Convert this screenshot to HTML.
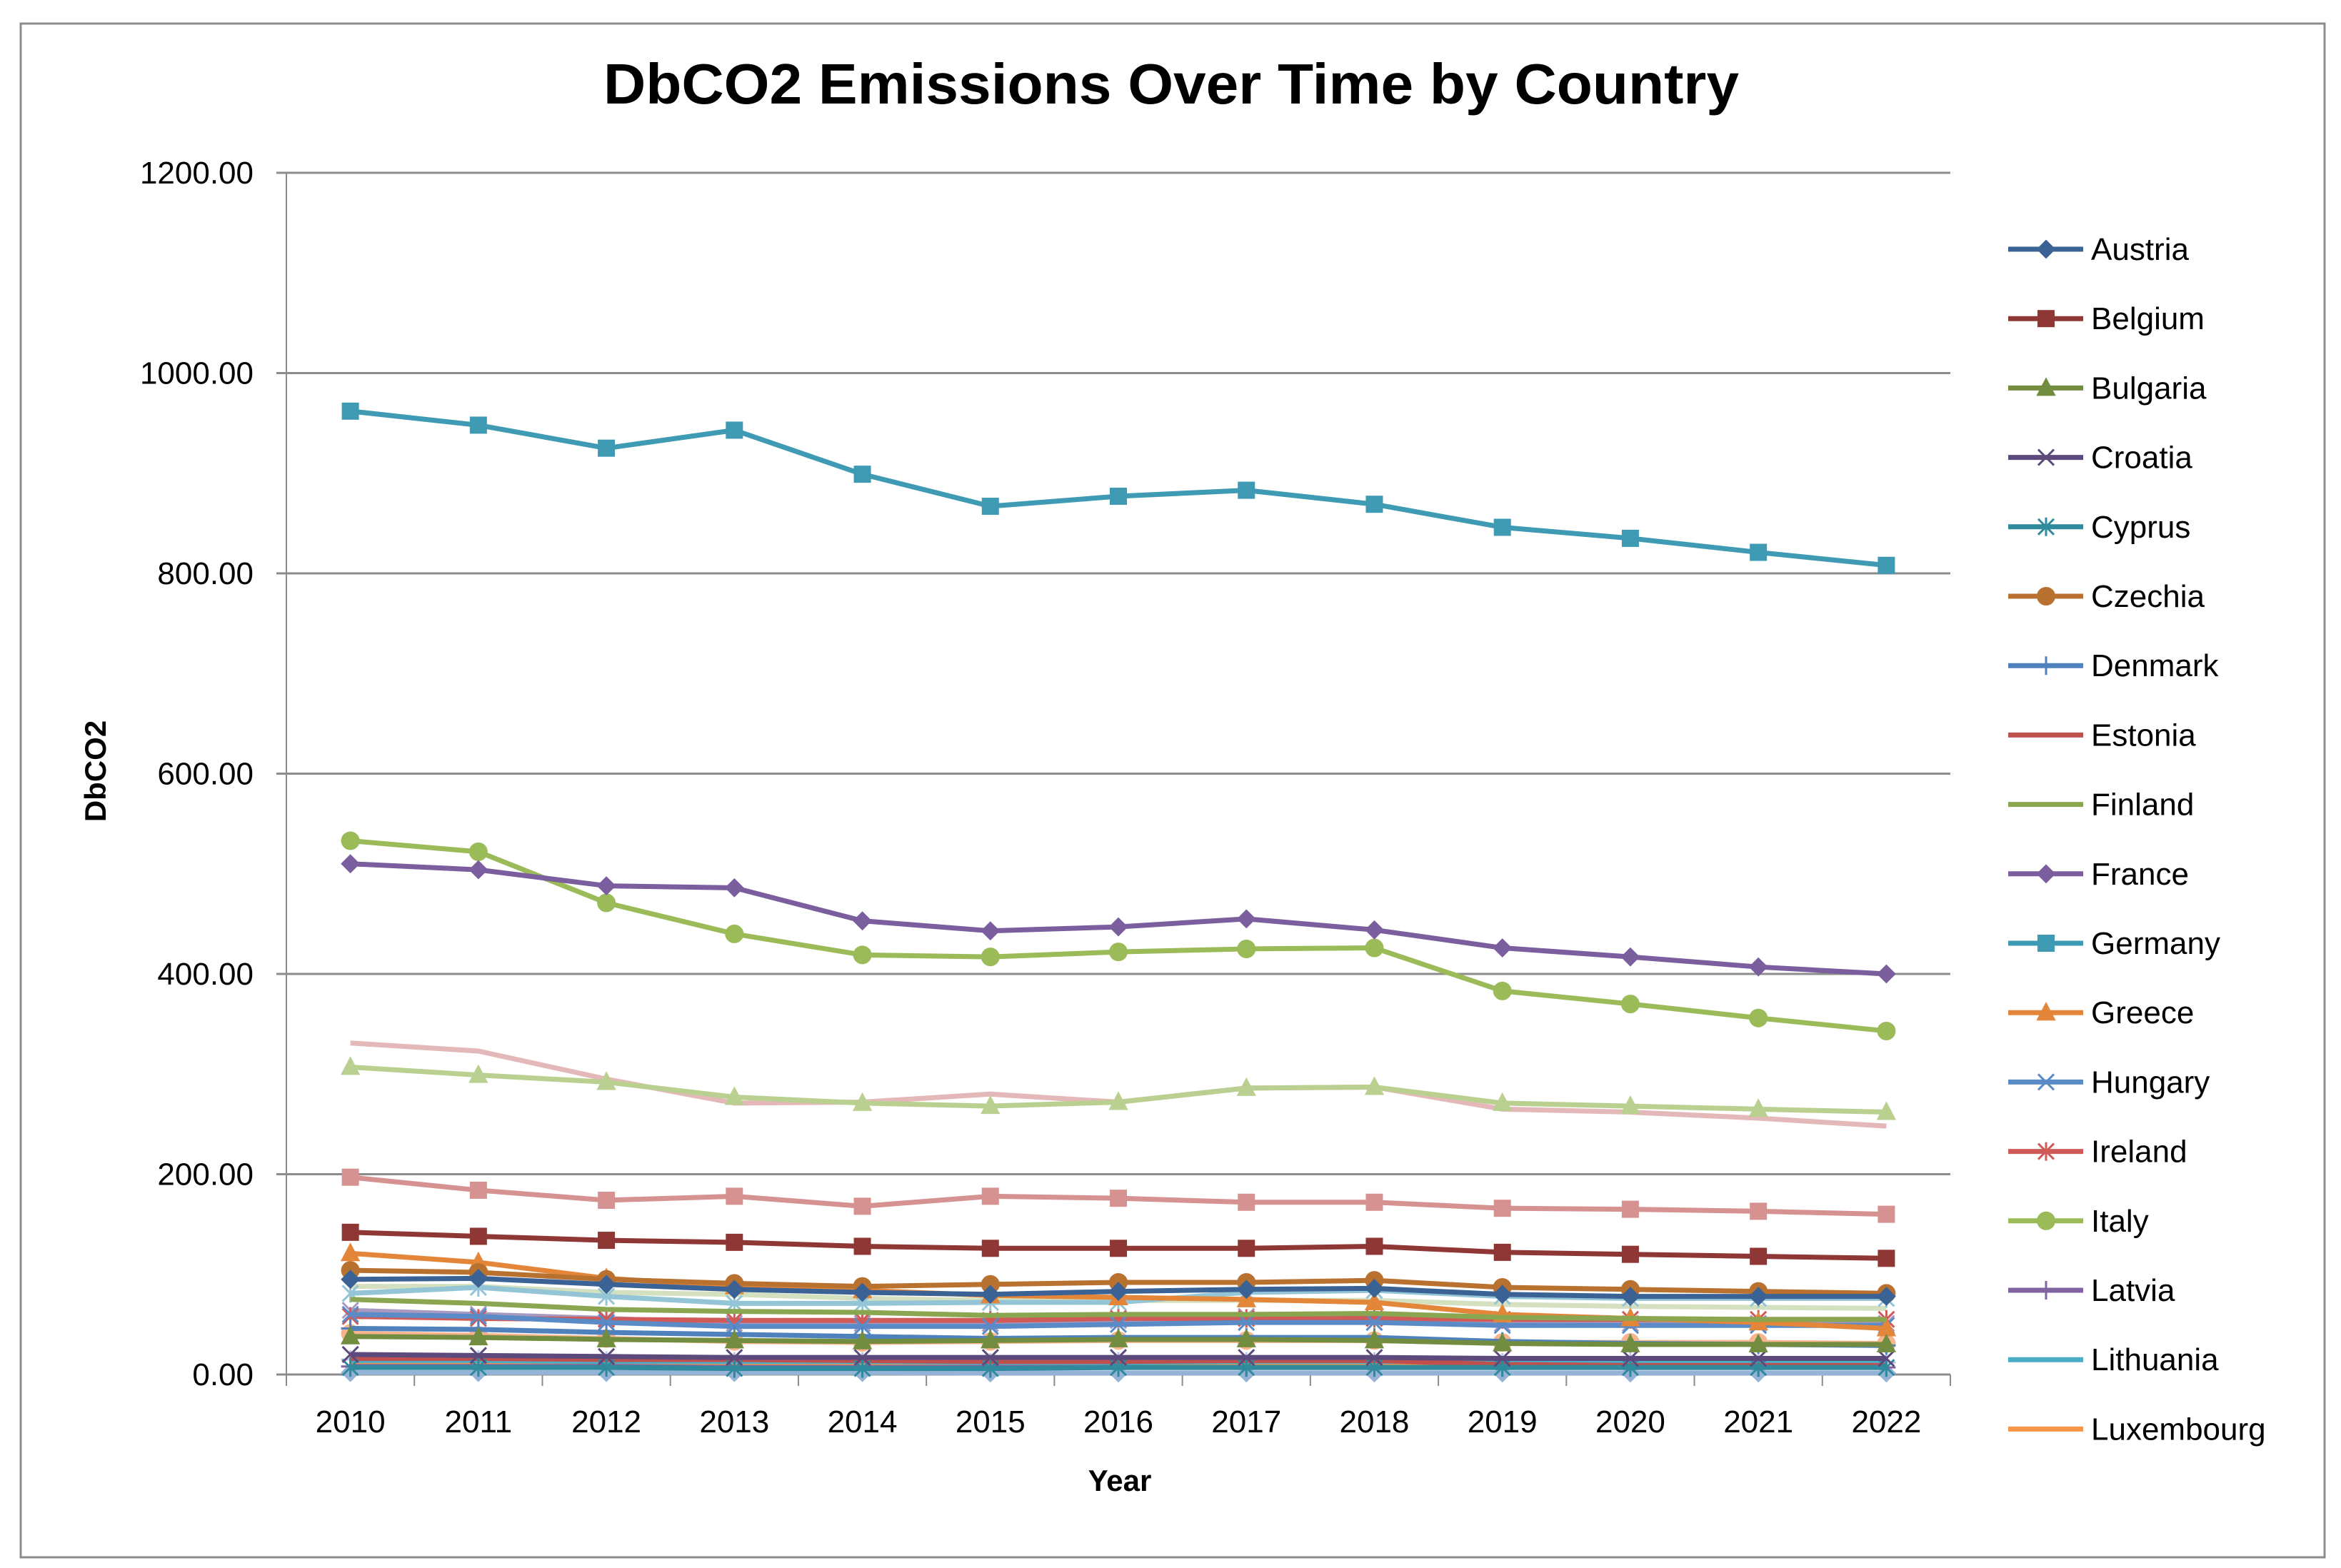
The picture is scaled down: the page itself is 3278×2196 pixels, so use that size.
<!DOCTYPE html>
<html><head><meta charset="utf-8"><style>
html,body{margin:0;padding:0;background:#fff}
svg{display:block;font-family:"Liberation Sans",sans-serif}
</style></head><body>
<svg id="chart" width="3278" height="2196" viewBox="0 0 3278 2196" xmlns="http://www.w3.org/2000/svg">
<rect x="29" y="33" width="3226" height="2148" fill="#fff" stroke="#8c8c8c" stroke-width="3"/>
<text x="1640" y="145" text-anchor="middle" font-size="80" font-weight="bold" textLength="1590" lengthAdjust="spacingAndGlyphs">DbCO2 Emissions Over Time by Country</text>
<g id="grid"></g><g id="axes"></g><g id="series"></g><g id="legend"></g>
<text transform="translate(148,1080) rotate(-90)" text-anchor="middle" font-size="42" font-weight="bold">DbCO2</text>
<text x="1568" y="2088" text-anchor="middle" font-size="42" font-weight="bold">Year</text>
</svg>
<script>
const years=["2010","2011","2012","2013","2014","2015","2016","2017","2018","2019","2020","2021","2022"];
const yTicks=[0,200,400,600,800,1000,1200];
const countries=["Austria","Belgium","Bulgaria","Croatia","Cyprus","Czechia","Denmark","Estonia","Finland","France","Germany","Greece","Hungary","Ireland","Italy","Latvia","Lithuania","Luxembourg","Malta","Netherlands","Poland","Portugal","Romania","Slovakia","Slovenia","Spain","Sweden"];
const austria=[95,96,90,85,82,80,83,85,86,80,78,78,78];
const belgium=[142,138,134,132,128,126,126,126,128,122,120,118,116];
const bulgaria=[38,37,35,34,33,34,35,35,34,31,30,30,30];
const croatia=[20,19,18,17,17,17,17,17,17,16,16,16,16];
const cyprus=[7,7,7,6,6,6,7,7,7,7,7,7,7];
const czechia=[104,102,95,91,88,90,92,92,94,87,85,83,81];
const denmark=[46,45,42,40,38,36,37,37,37,33,31,30,29];
const estonia=[16,16,15,15,14,13,13,14,14,10,9,9,9];
const finland=[75,71,65,63,62,59,60,60,61,57,56,55,55];
const france=[510,504,488,486,453,443,447,455,444,426,417,407,400];
const germany=[962,948,925,943,899,867,877,883,869,846,835,821,808];
const greece=[121,112,96,88,84,79,77,75,72,60,56,52,46];
const hungary=[60,58,52,48,48,48,50,52,52,49,49,49,49];
const ireland=[58,56,55,54,54,54,56,56,56,55,55,55,55];
const italy=[533,522,471,440,419,417,422,425,426,383,370,356,343];
const latvia=[8,8,8,7,7,7,7,7,7,7,7,7,7];
const lithuania=[14,14,13,13,13,12,12,13,13,13,13,13,13];
const luxembourg=[11,11,11,10,10,9,9,9,9,9,9,9,9];
const malta=[2,2,2,2,2,1.5,1.5,1.5,1.5,1.5,1.5,1.5,1.5];
const netherlands=[197,184,174,178,168,178,176,172,172,166,165,163,160];
const poland=[307,299,292,277,271,268,272,286,287,271,268,265,262];
const portugal=[64,60,56,51,51,51,54,58,56,51,51,51,51];
const romania=[81,87,78,71,71,72,72,82,84,78,76,76,76];
const slovakia=[41,39,36,33,32,33,34,34,34,32,32,32,31];
const slovenia=[15,15,14,13,13,12,13,13,13,12,12,12,12];
const spain=[331,323,295,271,272,280,272,286,287,265,262,256,248];
const sweden=[88,88,82,80,76,74,74,74,74,70,68,67,66];
const seriesValues=[austria,belgium,bulgaria,croatia,cyprus,czechia,denmark,estonia,finland,france,germany,greece,hungary,ireland,italy,latvia,lithuania,luxembourg,malta,netherlands,poland,portugal,romania,slovakia,slovenia,spain,sweden];
const colors=["#3b6295","#8e3735","#728d3f","#5d4a7d","#2e8a9c","#b8712f","#4f81bd","#c0504d","#8aa650","#7b5e9e","#3f9ab3","#e4863a","#5a8bc6","#d05a57","#9bbb59","#8064a2","#4bacc6","#f79646","#95b3d7","#d69290","#b9d090","#a899c0","#93c5d6","#f8b58d","#b9c9e2","#e4b8b8","#d4e0bf"];
const markers=["diamond","square","triangle","x","star","circle","plus","none","none"];
const L=401,R=2731,T=242,B=1925;
const xs=i=>L+(R-L)/years.length*(i+0.5);
const ys=v=>B-(v/1200)*(B-T);
const NS="http://www.w3.org/2000/svg";
function mk(tag,attrs,parent){const e=document.createElementNS(NS,tag);for(const k in attrs)e.setAttribute(k,attrs[k]);parent.appendChild(e);return e;}
const grid=document.getElementById('grid'),axes=document.getElementById('axes'),ser=document.getElementById('series'),leg=document.getElementById('legend');
yTicks.forEach(t=>{
 const gl=mk('line',{x1:L-14,x2:R,y1:ys(t),y2:ys(t),stroke:'#8c8c8c','stroke-width':3},grid);
 
 
 const tx=mk('text',{x:355,y:ys(t)+15,'text-anchor':'end','font-size':44},axes);
 tx.textContent=t.toFixed(2);
 
 
});
const ax=mk('line',{x1:L,x2:L,y1:T,y2:B,stroke:'#8c8c8c','stroke-width':2},axes);


for(let i=0;i<=years.length;i++){
 const x=L+(R-L)/years.length*i;
 const tk=mk('line',{x1:x,x2:x,y1:B,y2:B+16,stroke:'#8c8c8c','stroke-width':2},axes);
 
 
}
years.forEach((y,i)=>{
 const tx=mk('text',{x:xs(i),y:2006,'text-anchor':'middle','font-size':44},axes);
 tx.textContent=y;
 
 
});
function marker(type,x,y,c,parent){
 const s=12;let e=null;
 if(type==='diamond')e=mk('polygon',{points:`${x},${y-s} ${x+s},${y} ${x},${y+s} ${x-s},${y}`,fill:c,stroke:c,'stroke-width':2},parent);
 else if(type==='square')e=mk('rect',{x:x-11,y:y-11,width:22,height:22,fill:c,stroke:c,'stroke-width':2},parent);
 else if(type==='triangle')e=mk('polygon',{points:`${x},${y-13} ${x+12},${y+10} ${x-12},${y+10}`,fill:c,stroke:c,'stroke-width':2},parent);
 else if(type==='circle')e=mk('circle',{cx:x,cy:y,r:12,fill:c,stroke:c,'stroke-width':2},parent);
 else if(type==='x')e=mk('path',{d:`M${x-11},${y-11}L${x+11},${y+11}M${x-11},${y+11}L${x+11},${y-11}`,stroke:c,'stroke-width':3,fill:'none'},parent);
 else if(type==='star')e=mk('path',{d:`M${x-11},${y-11}L${x+11},${y+11}M${x-11},${y+11}L${x+11},${y-11}M${x},${y-13}L${x},${y+13}`,stroke:c,'stroke-width':3,fill:'none'},parent);
 else if(type==='plus')e=mk('path',{d:`M${x-13},${y}L${x+13},${y}M${x},${y-13}L${x},${y+13}`,stroke:c,'stroke-width':3,fill:'none'},parent);
 return e;
}
const order=[...countries.keys()].reverse();
order.forEach(k=>{
 const vals=seriesValues[k],c=colors[k],m=markers[k%9];
 const g=mk('g',{},ser);
 
 
 const pl=mk('polyline',{points:vals.map((v,i)=>xs(i)+','+ys(v)).join(' '),fill:'none',stroke:c,'stroke-width':7,'stroke-linejoin':'round'},g);
 
 
 vals.forEach((v,i)=>{const e=marker(m,xs(i),ys(v),c,g);if(e){
  
  }});
});
for(let k=0;k<18;k++){
 const y=349+97.2*k,c=colors[k];
 const g=mk('g',{},leg);
 
 
 mk('line',{x1:2812,x2:2917,y1:y,y2:y,stroke:c,'stroke-width':7},g);
 marker(markers[k%9],2865,y,c,g);
 const t=mk('text',{x:2928,y:y+15,'font-size':44},g);
 t.textContent=countries[k];
}
</script>
</body></html>
